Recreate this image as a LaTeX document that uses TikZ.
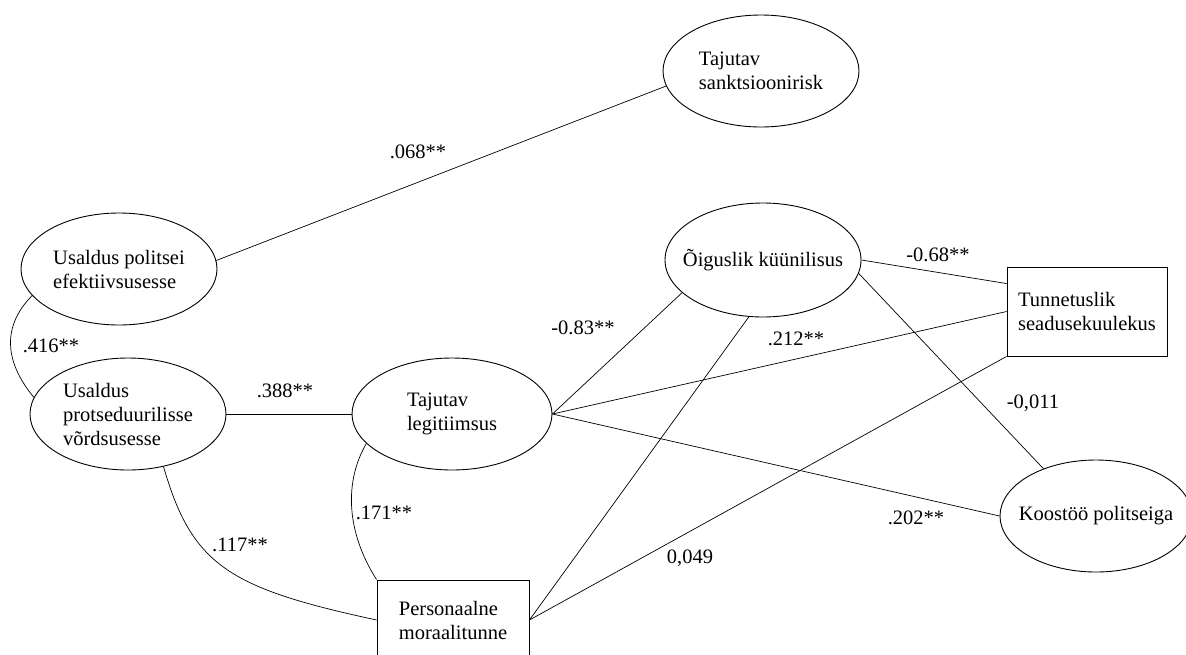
\documentclass[tikz,border=0pt]{standalone}
\usepackage{fontspec}
\setmainfont{Liberation Serif}
\usetikzlibrary{shapes.geometric,calc}
\begin{document}
\begin{tikzpicture}[x=1pt,y=-1pt,
  every node/.style={font=\fontsize{20.5}{24}\selectfont},
  ell/.style={draw,ellipse,line width=0.9pt,inner xsep=-15pt,inner ysep=0pt,align=left,minimum width=196pt,minimum height=112pt},
  box/.style={draw,rectangle,line width=0.9pt,inner sep=0pt,align=left},
  conn/.style={line width=0.7pt},
  lab/.style={inner sep=0pt}]
\fill[white] (0,0) rectangle (1186,654);
\clip (0,0) rectangle (1186,654);
\useasboundingbox (0,0) rectangle (1186,654);

\node[ell] (sank) at (761,71) {Tajutav\\sanktsioonirisk};
\node[ell] (upe) at (119,269) {Usaldus politsei\\efektiivsusesse};
\node[ell] (upr) at (128,414) {Usaldus\\protseduurilisse\\võrdsusesse};
\node[ell,minimum width=200pt] (leg) at (452,414) {Tajutav\\legitiimsus};
\node[ell,minimum height=114pt] (og) at (763,260) {Õiguslik küünilisus};
\node[ell,minimum width=192pt] (koo) at (1096,516) {Koostöö politseiga};
\node[box,minimum width=160pt,minimum height=89pt] (tun) at (1087,311.5) {Tunnetuslik\\seadusekuulekus};
\node[box,minimum width=152pt,minimum height=80pt] (pers) at (453,620) {Personaalne\\moraalitunne};

\draw[conn] (upe.5) -- (sank.189);
\draw[conn] (upe.197) .. controls (3,325) and (3,360) .. (upr.170);
\draw[conn] (upr.east) -- (leg.west);
\draw[conn] (upr.-56) .. controls (192,565) and (228,588) .. (pers.west);
\draw[conn] (leg.199) .. controls (345,480) and (345,530) .. (pers.north west);
\draw[conn] (leg.east) -- (og.202);
\draw[conn] (leg.east) -- (tun.west);
\draw[conn] (leg.east) -- (koo.west);
\draw[conn] (pers.east) -- (og.256);
\draw[conn] (pers.east) -- (tun.south west);
\draw[conn] (og.east) -- ($(tun.north west)+(0,17)$);
\draw[conn] (og.-8) -- (koo.138);

\node[lab] (l1) at (418,152) {.068**};
\node[lab] (l2) at (51,346) {.416**};
\node[lab] (l3) at (285,391) {.388**};
\node[lab] (l4) at (240,545) {.117**};
\node[lab] (l5) at (384,513) {.171**};
\node[lab] (l6) at (583,328) {-0.83**};
\node[lab] (l7) at (796,339) {.212**};
\node[lab] (l8) at (938,255) {-0.68**};
\node[lab] (l9) at (1033,403) {-0,011};
\node[lab] (l10) at (916,518) {.202**};
\node[lab] (l11) at (690,558) {0,049};
\end{tikzpicture}
\end{document}
